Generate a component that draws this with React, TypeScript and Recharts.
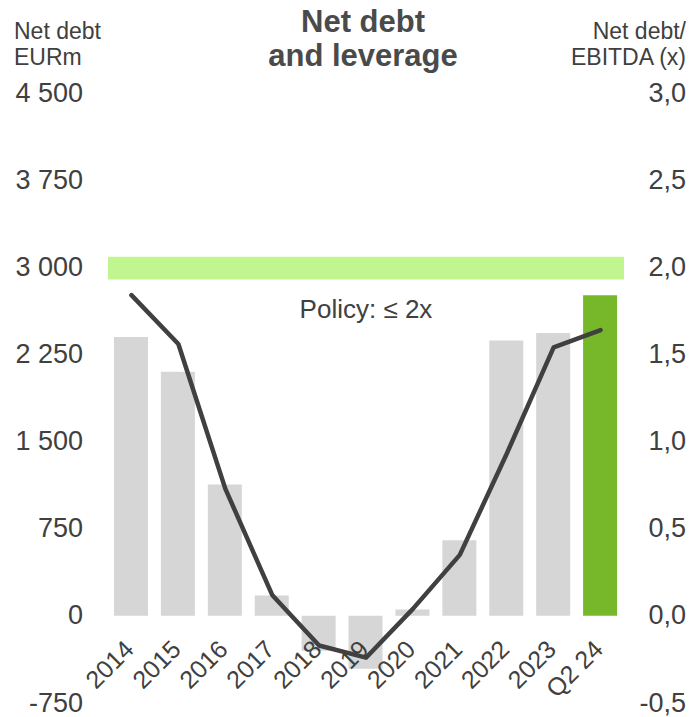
import React from 'react';
import {
  ComposedChart,
  Bar,
  Line,
  Cell,
  XAxis,
  YAxis,
  ReferenceArea
} from 'recharts';

const CATEGORIES = ['2014', '2015', '2016', '2017', '2018', '2019', '2020', '2021', '2022', '2023', 'Q2 24'];
const NET_DEBT = [2400, 2100, 1130, 175, -300, -455, 55, 650, 2370, 2435, 2760];
const LEVERAGE = [1.84, 1.56, 0.73, 0.12, -0.17, -0.24, 0.04, 0.35, 0.93, 1.54, 1.64];
const LEFT_TICKS = [-750, 0, 750, 1500, 2250, 3000, 3750, 4500];
const RIGHT_TICKS = [-0.5, 0, 0.5, 1.0, 1.5, 2.0, 2.5, 3.0];
const POLICY_BAND = [1.93, 2.06];

const W = 699;
const H = 717;
const PLOT_TOP = 93;
const PLOT_BOTTOM = 703;
const TEXT = '#404040';
const FONT = '"Liberation Sans", Arial, sans-serif';

// y pixel of the zero line (left axis), used to hang the category labels there
const ZERO_Y = PLOT_TOP + (PLOT_BOTTOM - PLOT_TOP) * (4500 / 5250);

const data = CATEGORIES.map((name, i) => ({ name, debt: NET_DEBT[i], lev: LEVERAGE[i] }));

const fmtLeft = (v: number) => String(v).replace(/\B(?=(\d{3})+(?!\d))/g, ' ');
const fmtRight = (v: number) => v.toFixed(1).replace('.', ',');

const LeftTick = (props: any) => {
  const { y, payload } = props;
  return (
    <text x={83} y={y} dy="0.32em" textAnchor="end" fontSize={27} fill={TEXT} fontFamily={FONT}>
      {fmtLeft(payload.value)}
    </text>
  );
};

const RightTick = (props: any) => {
  const { y, payload } = props;
  return (
    <text x={W - 13} y={y} dy="0.32em" textAnchor="end" fontSize={27} fill={TEXT} fontFamily={FONT}>
      {fmtRight(payload.value)}
    </text>
  );
};

const CatTick = (props: any) => {
  const { x, payload } = props;
  return (
    <text
      transform={`translate(${x + 4},${ZERO_Y + 35}) rotate(-45)`}
      textAnchor="end"
      fontSize={25}
      fill={TEXT}
      fontFamily={FONT}
    >
      {payload.value}
    </text>
  );
};

export default function App() {
  return (
    <div style={{ position: 'absolute', left: 0, top: 0, width: W, height: H, background: '#fff', fontFamily: FONT, color: TEXT }}>
      <div style={{ position: 'absolute', left: 14, top: 18, fontSize: 23, lineHeight: '26px' }}>
        Net debt<br />EURm
      </div>
      <div style={{ position: 'absolute', left: 213, width: 300, top: 5, fontSize: 31, lineHeight: '34px', fontWeight: 'bold', textAlign: 'center', color: '#4a4a4a' }}>
        Net debt<br />and leverage
      </div>
      <div style={{ position: 'absolute', right: 13, top: 18, fontSize: 23, lineHeight: '26px', textAlign: 'right' }}>
        Net debt/<br />EBITDA (x)
      </div>
      <div style={{ position: 'absolute', left: 0, top: 0 }}>
        <ComposedChart
          width={W}
          height={H}
          data={data}
          margin={{ top: PLOT_TOP, right: 0, left: 0, bottom: H - PLOT_BOTTOM - 1 }}
        >
          <XAxis
            dataKey="name"
            axisLine={false}
            tickLine={false}
            height={1}
            interval={0}
            tick={CatTick}
          />
          <YAxis
            yAxisId="left"
            orientation="left"
            domain={[-750, 4500]}
            ticks={LEFT_TICKS}
            axisLine={false}
            tickLine={false}
            width={108}
            tick={LeftTick}
          />
          <YAxis
            yAxisId="right"
            orientation="right"
            domain={[-0.5, 3.0]}
            ticks={RIGHT_TICKS}
            axisLine={false}
            tickLine={false}
            width={75}
            tick={RightTick}
          />
          <ReferenceArea
            yAxisId="right"
            y1={POLICY_BAND[0]}
            y2={POLICY_BAND[1]}
            fill="#c1f590"
            fillOpacity={1}
            stroke="none"
            label={{ value: 'Policy: ≤ 2x', position: 'bottom', offset: 20, fill: TEXT, fontSize: 26, fontFamily: FONT }}
          />
          <Bar yAxisId="left" dataKey="debt" barSize={34} isAnimationActive={false}>
            {data.map((d, i) => (
              <Cell key={d.name} fill={i === data.length - 1 ? '#77b82a' : '#d6d6d6'} />
            ))}
          </Bar>
          <Line
            yAxisId="right"
            type="linear"
            dataKey="lev"
            stroke="#404040"
            strokeWidth={4.5}
            strokeLinecap="round"
            strokeLinejoin="round"
            dot={false}
            activeDot={false}
            isAnimationActive={false}
          />
        </ComposedChart>
      </div>
    </div>
  );
}
